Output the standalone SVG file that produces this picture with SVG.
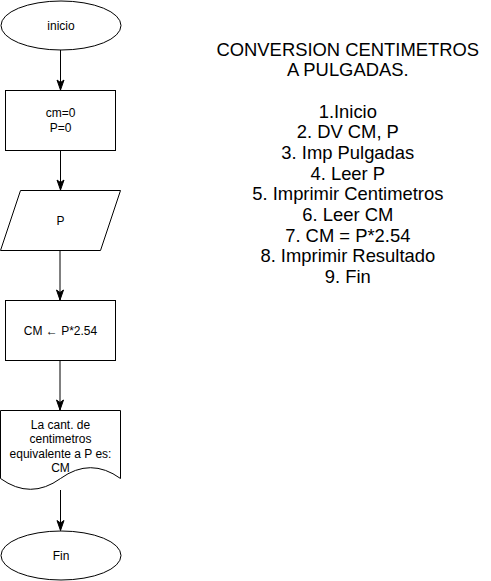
<svg xmlns="http://www.w3.org/2000/svg" width="491" height="581" viewBox="0 0 491 581">
<defs>
<style>
.s{fill:#fff;stroke:#000;stroke-width:1}
.t{font-family:"Liberation Sans",Arial,sans-serif;font-size:12px;fill:#000;text-anchor:middle}
.big{font-family:"Liberation Sans",Arial,sans-serif;font-size:18.4px;fill:#000;text-anchor:middle}
.c{fill:none;stroke:#000;stroke-width:1}
</style>
<marker id="ah" markerUnits="userSpaceOnUse" markerWidth="12" markerHeight="10" viewBox="-11 -5 12 10" refX="0" refY="0" orient="auto">
<path d="M0,0 L-10,-3.5 L-7.5,0 L-10,3.5 Z" fill="#000" stroke="#000" stroke-width="1"/>
</marker>
</defs>
<rect width="491" height="581" fill="#fff"/>
<g id="connectors">
<line class="c" x1="60.5" y1="50" x2="60.5" y2="90" marker-end="url(#ah)"/>
<line class="c" x1="60.5" y1="150.5" x2="60.5" y2="190" marker-end="url(#ah)"/>
<line class="c" x1="60" y1="250.5" x2="60" y2="300" marker-end="url(#ah)"/>
<line class="c" x1="60" y1="360.5" x2="60" y2="410" marker-end="url(#ah)"/>
<line class="c" x1="60.5" y1="490" x2="60.5" y2="530.5" marker-end="url(#ah)"/>
</g>
<g id="inicio">
<ellipse class="s" cx="61" cy="25.5" rx="60" ry="24.5"/>
<text class="t" x="61" y="29.5">inicio</text>
</g>
<g id="init">
<rect class="s" x="5.5" y="90.5" width="110" height="60"/>
<text class="t" x="60.5" y="117">cm=0</text>
<text class="t" x="60.5" y="131.5">P=0</text>
</g>
<g id="input">
<polygon class="s" points="20.5,190.5 120.5,190.5 100.5,250.5 0.5,250.5"/>
<text class="t" x="60.5" y="225">P</text>
</g>
<g id="calc">
<rect class="s" x="5.5" y="300.5" width="110" height="60"/>
<text class="t" x="60.5" y="334.5">CM ← P*2.54</text>
</g>
<g id="output">
<path class="s" d="M0.5,410.5 H120.5 V478.5 Q90.5,456.9 60.5,478.5 Q30.5,500.1 0.5,478.5 Z"/>
<text class="t" x="60.5" y="429">La cant. de</text>
<text class="t" x="60.5" y="443.4">centimetros</text>
<text class="t" x="60.5" y="457.8">equivalente a P es:</text>
<text class="t" x="60.5" y="472.2">CM</text>
</g>
<g id="fin">
<ellipse class="s" cx="61" cy="555.5" rx="60" ry="24.5"/>
<text class="t" x="61" y="559.5">Fin</text>
</g>
<g id="description">
<text class="big" x="347.8" y="55.5">CONVERSION CENTIMETROS</text>
<text class="big" x="347.8" y="76.3">A PULGADAS.</text>
<text class="big" x="347.8" y="117.5">1.Inicio</text>
<text class="big" x="347.8" y="138.2">2. DV CM, P</text>
<text class="big" x="347.8" y="158.9">3. Imp Pulgadas</text>
<text class="big" x="347.8" y="179.6">4. Leer P</text>
<text class="big" x="347.8" y="200.3">5. Imprimir Centimetros</text>
<text class="big" x="347.8" y="221">6. Leer CM</text>
<text class="big" x="347.8" y="241.7">7. CM = P*2.54</text>
<text class="big" x="347.8" y="262.4">8. Imprimir Resultado</text>
<text class="big" x="347.8" y="283.1">9. Fin</text>
</g>
</svg>
